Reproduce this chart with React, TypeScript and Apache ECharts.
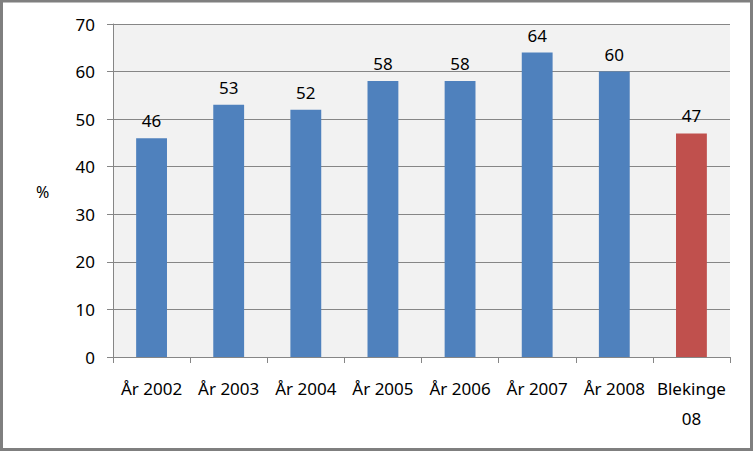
import React, { useEffect, useRef } from "react";
import * as echarts from "echarts";

const categories = ["År 2002", "År 2003", "År 2004", "År 2005", "År 2006", "År 2007", "År 2008", "Blekinge\n08"];
const values = [46, 53, 52, 58, 58, 64, 60, 47];
const barColors = ["#4F81BD", "#4F81BD", "#4F81BD", "#4F81BD", "#4F81BD", "#4F81BD", "#4F81BD", "#C0504D"];
const yTicks = { min: 0, max: 70, interval: 10 };

export default function App() {
  const ref = useRef<HTMLDivElement>(null);
  useEffect(() => {
    if (!ref.current) return;
    const chart = echarts.init(ref.current, null, { renderer: "svg" });
    const font = "Noto Sans";
    chart.setOption({
      animation: false,
      backgroundColor: "#ffffff",
      textStyle: { fontFamily: font },
      grid: { left: 113, right: 23, top: 24, bottom: 94, show: true, backgroundColor: "#F2F2F2", borderWidth: 0 },
      graphic: [
        {
          type: "rect",
          shape: { x: 1.5, y: 1, width: 750, height: 448.5 },
          style: { fill: "none", stroke: "#7F7F7F", lineWidth: 3 },
          silent: true,
        },
        {
          type: "text",
          left: 36,
          top: 184,
          style: { text: "%", fontSize: 16, fontFamily: font, fill: "#000" },
        },
      ],
      xAxis: {
        type: "category",
        data: categories,
        axisLine: { lineStyle: { color: "#868686", width: 1 } },
        axisTick: { show: true, length: 6, lineStyle: { color: "#868686" } },
        axisLabel: { color: "#000", fontSize: 17, fontFamily: font, margin: 16, lineHeight: 30, interval: 0 },
      },
      yAxis: {
        type: "value",
        min: yTicks.min,
        max: yTicks.max,
        interval: yTicks.interval,
        axisLine: { show: true, lineStyle: { color: "#868686", width: 1 } },
        axisTick: { show: true, length: 6, lineStyle: { color: "#868686" } },
        splitLine: { lineStyle: { color: "#868686", width: 1 } },
        axisLabel: { color: "#000", fontSize: 17, fontFamily: font, margin: 18 },
      },
      series: [
        {
          type: "bar",
          data: values.map((v, i) => ({ value: v, itemStyle: { color: barColors[i] } })),
          barWidth: "40%",
          label: { show: true, position: "top", distance: 9, color: "#000", fontSize: 17, fontFamily: font },
        },
      ],
    });
    return () => chart.dispose();
  }, []);
  return <div ref={ref} style={{ position: "fixed", left: 0, top: 0, width: 753, height: 451 }} />;
}
